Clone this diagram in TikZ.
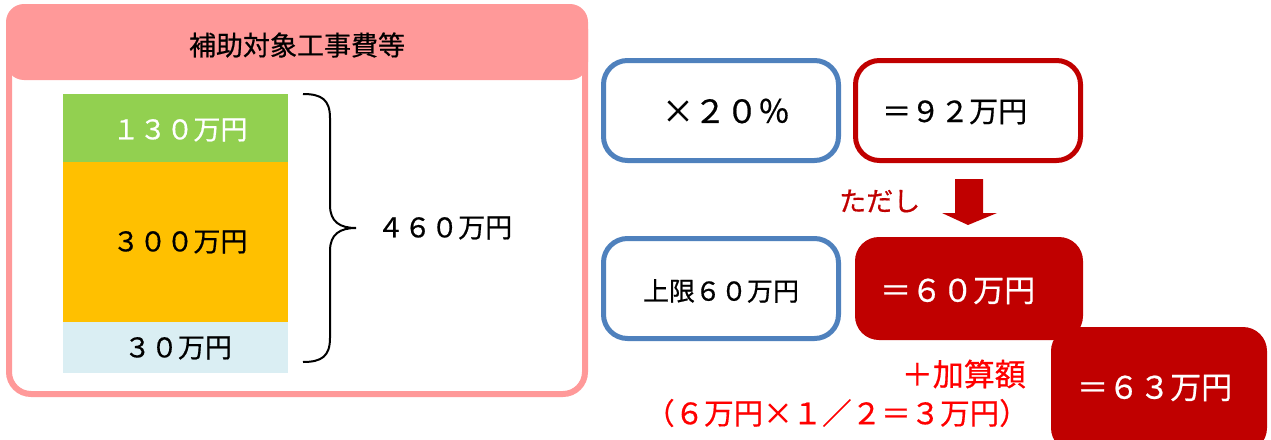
\documentclass[tikz,border=0pt]{standalone}
\usepackage{fontspec}
\newfontfamily\jp[FakeBold=0.6]{Noto Sans CJK JP}
\definecolor{pinkc}{HTML}{FF9999}
\definecolor{greenc}{HTML}{92D050}
\definecolor{orangec}{HTML}{FFC000}
\definecolor{lbluec}{HTML}{DAEEF3}
\definecolor{bluec}{HTML}{4F81BD}
\definecolor{darkred}{HTML}{C00000}
\definecolor{brightred}{HTML}{FF0000}
\begin{document}
\begin{tikzpicture}[x=1pt,y=-1pt,
  txt/.style={inner sep=0pt, font=\jp\fontsize{27}{31}\selectfont},
  bigtxt/.style={inner sep=0pt, font=\jp\fontsize{31}{35}\selectfont},
  bluebox/.style={draw=bluec, line width=5pt, rounded corners=24pt, fill=white, minimum width=235pt, minimum height=100pt, inner sep=0pt},
  redbox/.style={draw=darkred, line width=5pt, rounded corners=24pt, fill=white, minimum width=225pt, minimum height=100pt, inner sep=0pt},
  redfill/.style={fill=darkred, rounded corners=24pt, inner sep=0pt},
  bar/.style={inner sep=0pt, minimum width=225pt}
]
\useasboundingbox (0,0) rectangle (1271,439);
% outer pink box
\node[draw=pinkc, line width=6pt, rounded corners=22pt, fill=white, minimum width=576pt, minimum height=387pt, inner sep=0pt] (outer) at (297,200.5) {};
\node[fill=pinkc, rounded corners=18pt, minimum width=582pt, minimum height=76pt, inner sep=0pt] (header) at (297,42) {};
\node[txt] (title) at (297,45) {補助対象工事費等};
% bars
\node[bar, fill=greenc, minimum height=68pt] (g) at (175.5,128) {};
\node[bar, fill=orangec, minimum height=160pt] (o) at (175.5,242) {};
\node[bar, fill=lbluec, minimum height=51pt] (l) at (175.5,347.5) {};
\node[txt, text=white] (t130) at (180,130) {１３０万円};
\node[txt] (t300) at (180,242) {３００万円};
\node[txt] (t30) at (178,348) {３０万円};
% brace
\coordinate (btop) at (303,94);
\coordinate (btip) at (356,228);
\coordinate (bbot) at (303,362);
\draw[line width=2pt] (btop) .. controls (322,94) and (330,100) .. (330,118) -- (330,205)
  .. controls (330,222) and (340,228) .. (btip)
  .. controls (340,228) and (330,234) .. (330,251) -- (330,338)
  .. controls (330,356) and (322,362) .. (bbot);
\node[txt, anchor=west] (t460) at (377,228) {４６０万円};
% right side
\node[bluebox] (b1) at (721,110.5) {};
\node[bigtxt, font=\jp\fontsize{32}{36}\selectfont] (t20) at (726,111) {×２０％};
\node[redbox] (r1) at (968,110.5) {};
\node[txt, font=\jp\fontsize{29}{33}\selectfont, anchor=west] (t92) at (882,112) {＝９２万円};
\node[txt, text=darkred, anchor=west] (tadashi) at (839,201) {ただし};
\fill[darkred] (955,179) -- (983,179) -- (983,213) -- (997,213) -- (968,225) -- (942,213) -- (955,213) -- cycle;
\node[bluebox] (b2) at (721,288.5) {};
\node[txt, font=\jp\fontsize{26}{30}\selectfont] (tlim) at (721,291) {上限６０万円};
\node[redfill, minimum width=228pt, minimum height=103pt] (r2) at (969,288.5) {};
\node[bigtxt, text=white, anchor=west] (t60) at (880,291) {＝６０万円};
\node[redfill, minimum width=216pt, minimum height=125pt] (r3) at (1159,389.5) {};
\node[bigtxt, text=white, anchor=west] (t63) at (1077,388) {＝６３万円};
\node[bigtxt, text=brightred, anchor=east] (tadd) at (1026,374) {＋加算額};
\node[txt, font=\jp\fontsize{29.5}{33}\selectfont, text=brightred, anchor=west] (tcalc) at (645,413) {（６万円×１／２＝３万円）};
\end{tikzpicture}
\end{document}
